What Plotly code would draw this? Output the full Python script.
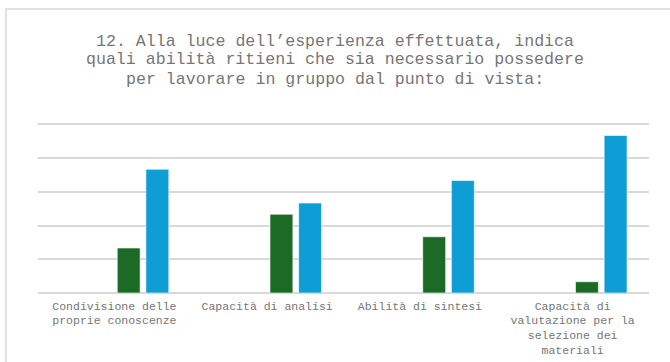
import plotly.graph_objects as go

categories = [
    "Condivisione delle<br>proprie conoscenze",
    "Capacità di analisi",
    "Abilità di sintesi",
    "Capacità di<br>valutazione per la<br>selezione dei<br>materiali",
]
series_names = ["Per niente", "Poco", "Abbastanza", "Molto"]
values_s1 = [0, 0, 0, 0]
values_s2 = [0, 0, 0, 0]
values_s3 = [4, 7, 5, 1]
values_s4 = [11, 8, 10, 14]
colors = ["#7f7f7f", "#a5a5a5", "#1b6b26", "#0f9dd6"]

title_lines = [
    "12. Alla luce dell’esperienza effettuata, indica",
    "quali abilità ritieni che sia necessario possedere",
    "per lavorare in gruppo dal punto di vista:",
]

W, H = 670, 362
ML, MR, MT, MB = 38, 21, 122, 69
YMAX = 15.2
plot_h = H - MT - MB
plot_w = W - ML - MR

fig = go.Figure()
for name, vals, col in zip(series_names, [values_s1, values_s2, values_s3, values_s4], colors):
    has_data = any(v > 0 for v in vals)
    fig.add_trace(go.Bar(
        x=categories, y=vals, name=name,
        marker=dict(color=col,
                    line=dict(color="rgba(255,255,255,0.6)", width=1 if has_data else 0)),
    ))

font_mono = "'Courier New', Courier, 'Nimbus Mono PS', 'Nimbus Mono L', FreeMono, 'Liberation Mono', monospace"
text_color = "#767676"
ann = []
title_y_px = [41, 60, 79]
for line, py in zip(title_lines, title_y_px):
    ann.append(dict(
        text=line, xref="paper", yref="paper",
        x=(W / 2 - ML) / plot_w, y=(H - MB - py) / plot_h,
        xanchor="center", yanchor="middle", showarrow=False,
        font=dict(family=font_mono, size=16.6, color=text_color),
    ))

fig.update_layout(
    width=W, height=H,
    margin=dict(l=ML, r=MR, t=MT, b=MB),
    paper_bgcolor="white", plot_bgcolor="white",
    barmode="group", bargap=0.25, bargroupgap=0.2,
    showlegend=False,
    annotations=ann,
    xaxis=dict(
        showgrid=False, showline=False, zeroline=False, ticks="",
        tickfont=dict(family=font_mono, size=11.5, color=text_color),
        ticklabelstandoff=4, automargin=False,
        fixedrange=True,
    ),
    yaxis=dict(
        range=[0, YMAX], dtick=3, showticklabels=False,
        showgrid=True, gridcolor="#d9d9d9", gridwidth=2,
        zeroline=True, zerolinecolor="#d9d9d9", zerolinewidth=2,
        automargin=False, fixedrange=True,
    ),
    shapes=[dict(
        type="rect", xref="paper", yref="paper",
        x0=(6 - ML) / plot_w, x1=2,
        y0=-2, y1=(H - MB - 9) / plot_h,
        line=dict(color="#d9d9d9", width=1.5), fillcolor="rgba(0,0,0,0)",
        layer="below",
    )],
)

fig.write_html("out.html")
